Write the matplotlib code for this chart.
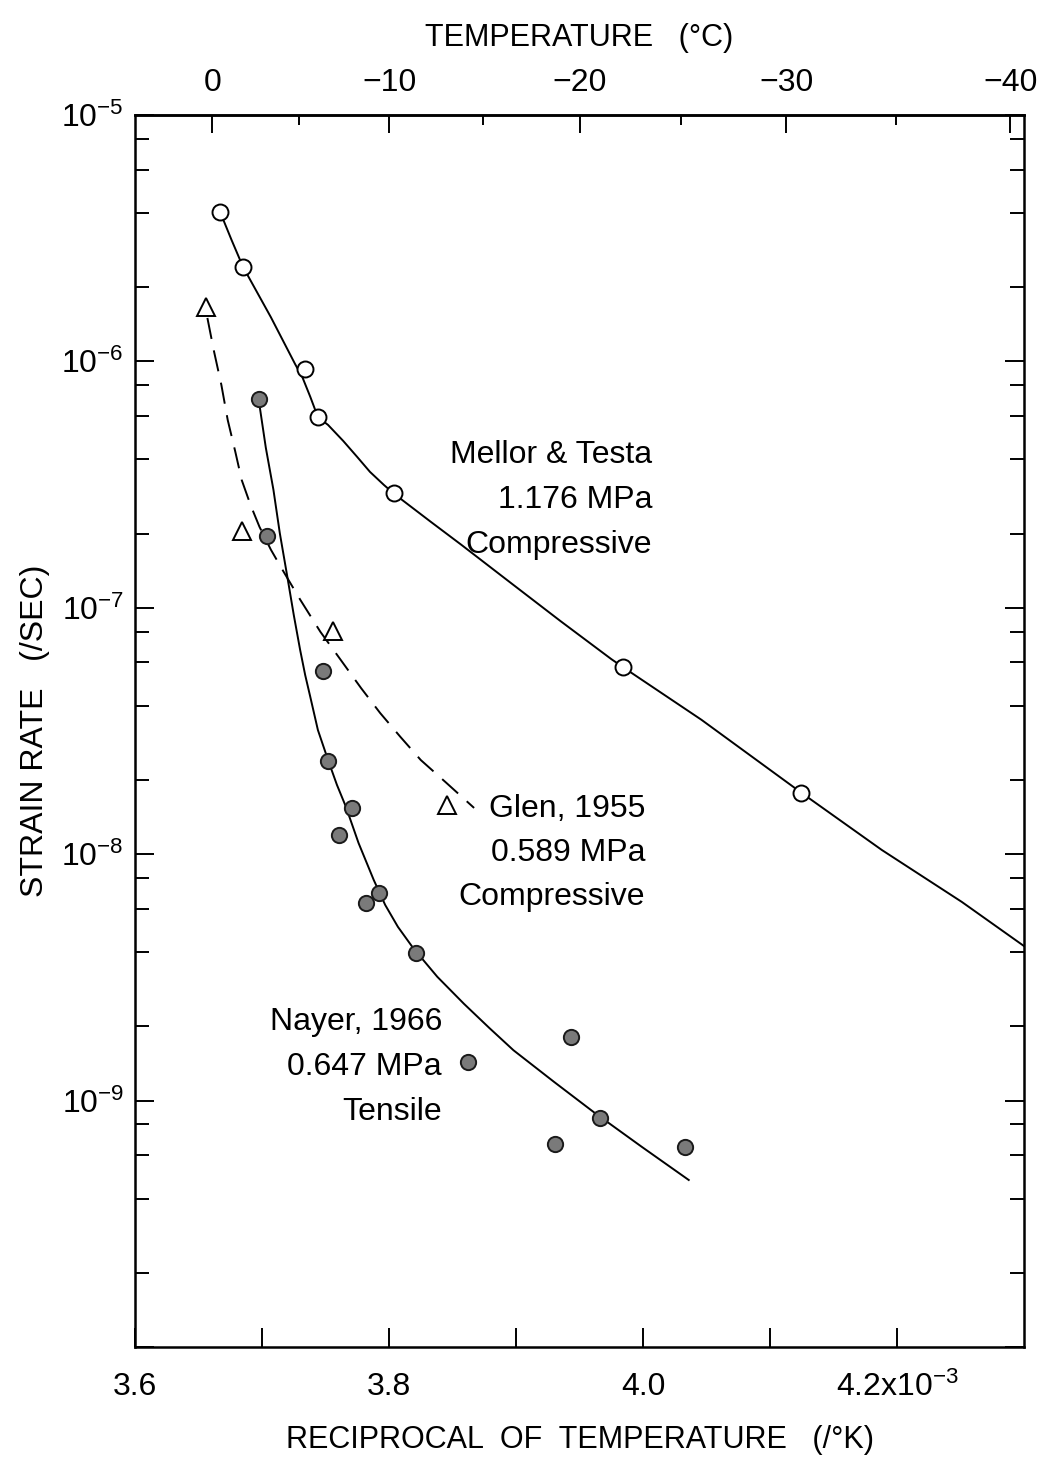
import numpy as np
import matplotlib
matplotlib.use('Agg')
import matplotlib.pyplot as plt
from matplotlib.ticker import FixedLocator, LogLocator, NullFormatter

plt.rcParams['font.family'] = ['Liberation Sans', 'DejaVu Sans']
plt.rcParams['mathtext.fontset'] = 'custom'
plt.rcParams['mathtext.rm'] = 'Liberation Sans'
plt.rcParams['mathtext.it'] = 'Liberation Sans:italic'
plt.rcParams['mathtext.bf'] = 'Liberation Sans:bold'
plt.rcParams['axes.unicode_minus'] = True

# x values are 1/T in units of 1e-3 /K, rates in /sec

# Mellor & Testa, 1.176 MPa, compressive (open circles)
mellor_x = [3.667, 3.685, 3.734, 3.744, 3.804, 3.984, 4.124]
mellor_rate = [4.04e-6, 2.42e-6, 9.3e-7, 5.94e-7, 2.92e-7, 5.75e-8, 1.77e-8]
mellor_curve_x = [3.667, 3.676, 3.685, 3.707, 3.726, 3.732, 3.738, 3.744, 3.752,
                  3.764, 3.775, 3.785, 3.796, 3.804, 3.833, 3.857, 3.896, 3.935,
                  3.975, 3.984, 4.046, 4.125, 4.188, 4.251, 4.301]
mellor_curve_rate = [4.04e-6, 3.11e-6, 2.42e-6, 1.51e-6, 9.76e-7, 8.57e-7, 7.18e-7,
                     5.94e-7, 5.52e-7, 4.75e-7, 4.09e-7, 3.56e-7, 3.15e-7, 2.90e-7,
                     2.23e-7, 1.80e-7, 1.26e-7, 8.83e-8, 6.19e-8, 5.75e-8, 3.51e-8,
                     1.77e-8, 1.04e-8, 6.40e-9, 4.20e-9]

# Glen, 1955, 0.589 MPa, compressive (open triangles, dashed)
glen_x = [3.656, 3.684, 3.756, 3.846]
glen_rate = [1.66e-6, 2.05e-7, 8.05e-8, 1.58e-8]
glen_curve_x = [3.657, 3.662, 3.668, 3.673, 3.679, 3.684, 3.691, 3.698, 3.707,
                3.717, 3.730, 3.746, 3.762, 3.778, 3.793, 3.809, 3.825, 3.845, 3.867]
glen_curve_rate = [1.50e-6, 1.11e-6, 8.02e-7, 5.78e-7, 4.29e-7, 3.30e-7, 2.61e-7,
                   2.13e-7, 1.72e-7, 1.40e-7, 1.08e-7, 7.98e-8, 6.14e-8, 4.72e-8,
                   3.74e-8, 2.99e-8, 2.41e-8, 1.95e-8, 1.54e-8]

# Nayer, 1966, 0.647 MPa, tensile (filled circles)
nayer_x = [3.698, 3.704, 3.748, 3.752, 3.771, 3.761, 3.792, 3.782, 3.821,
           3.943, 3.862, 3.966, 3.931, 4.033]
nayer_rate = [7.03e-7, 1.95e-7, 5.54e-8, 2.39e-8, 1.54e-8, 1.20e-8, 6.97e-9,
              6.34e-9, 3.97e-9, 1.81e-9, 1.44e-9, 8.49e-10, 6.67e-10, 6.49e-10]
nayer_curve_x = [3.698, 3.703, 3.709, 3.714, 3.720, 3.725, 3.730, 3.734, 3.738,
                 3.744, 3.752, 3.759, 3.766, 3.776, 3.788, 3.797, 3.807, 3.819,
                 3.838, 3.859, 3.879, 3.898, 3.930, 3.962, 3.999, 4.036]
nayer_curve_rate = [6.65e-7, 4.46e-7, 3.01e-7, 2.01e-7, 1.33e-7, 9.35e-8, 6.75e-8,
                    5.33e-8, 4.35e-8, 3.19e-8, 2.41e-8, 1.91e-8, 1.56e-8, 1.11e-8,
                    7.85e-9, 6.22e-9, 5.07e-9, 4.16e-9, 3.18e-9, 2.47e-9, 1.97e-9,
                    1.60e-9, 1.19e-9, 8.91e-10, 6.49e-10, 4.76e-10]

x_ticks = [3.6, 3.7, 3.8, 3.9, 4.0, 4.1, 4.2]
x_ticklabels = ['3.6', '', '3.8', '', '4.0', '', '4.2x10$^{-3}$']
y_ticks = [1e-10, 1e-9, 1e-8, 1e-7, 1e-6, 1e-5]
y_ticklabels = ['', '$10^{-9}$', '$10^{-8}$', '$10^{-7}$', '$10^{-6}$', '$10^{-5}$']
temp_ticks = [0, -10, -20, -30, -40]
temp_minor = [-5, -15, -25, -35]
temp_ticklabels = ['0', '\u221210', '\u221220', '\u221230', '\u221240']

labels = {
    'mellor': ['Mellor & Testa', '1.176 MPa', 'Compressive'],
    'glen': ['Glen, 1955', '0.589 MPa', 'Compressive'],
    'nayer': ['Nayer, 1966', '0.647 MPa', 'Tensile'],
}

fig = plt.figure(figsize=(10.49, 14.66), dpi=100)
ax = fig.add_axes([0.1287, 0.0812, 0.8475, 0.8404])

lw = 1.4
ax.plot(mellor_curve_x, mellor_curve_rate, color='black', lw=lw, zorder=2)
ax.plot(glen_curve_x, glen_curve_rate, color='black', lw=lw, dashes=(11, 6), zorder=2)
ax.plot(nayer_curve_x, nayer_curve_rate, color='black', lw=lw, zorder=2)

ax.plot(mellor_x, mellor_rate, 'o', ms=11.5, mfc='white', mec='black', mew=1.4,
        ls='none', zorder=3)
ax.plot(glen_x, glen_rate, '^', ms=12.5, mfc='white', mec='black', mew=1.4,
        ls='none', zorder=3)
ax.plot(nayer_x, nayer_rate, 'o', ms=11, mfc='#7a7a7a', mec='#1a1a1a', mew=1.4,
        ls='none', zorder=3)

ax.set_yscale('log')
ax.set_xlim(3.6, 4.3)
ax.set_ylim(1e-10, 1e-5)

ax.xaxis.set_major_locator(FixedLocator(x_ticks))
ax.set_xticklabels(x_ticklabels)
ax.yaxis.set_major_locator(FixedLocator(y_ticks))
ax.set_yticklabels(y_ticklabels)
ax.yaxis.set_minor_locator(LogLocator(base=10, subs=(2, 4, 6, 8)))
ax.yaxis.set_minor_formatter(NullFormatter())

ax.tick_params(axis='both', which='major', direction='in', length=14, width=1.4,
               right=True, top=False)
ax.tick_params(axis='y', which='minor', direction='in', length=10, width=1.4,
               right=True)
ax.tick_params(axis='x', which='major', pad=18, labelsize=23)
ax.tick_params(axis='y', which='major', pad=8, labelsize=23)
for s in ax.spines.values():
    s.set_linewidth(1.8)

# top axis in degrees C
def inv_to_c(x):
    x = np.asarray(x, dtype=float)
    return 1000.0 / x - 273.15

def c_to_inv(c):
    c = np.asarray(c, dtype=float)
    return 1000.0 / (c + 273.15)

secax = ax.secondary_xaxis('top', functions=(inv_to_c, c_to_inv))
secax.xaxis.set_major_locator(FixedLocator(temp_ticks))
secax.xaxis.set_minor_locator(FixedLocator(temp_minor))
secax.set_xticklabels(temp_ticklabels)
secax.tick_params(which='major', direction='in', length=13, width=1.4,
                  labelsize=23, pad=12)
secax.tick_params(which='minor', direction='in', length=7, width=1.4)
secax.spines['top'].set_linewidth(1.8)

secax.set_xlabel('TEMPERATURE   (\u00b0C)', fontsize=22, labelpad=16)
ax.set_xlabel('RECIPROCAL  OF  TEMPERATURE   (/\u00b0K)', fontsize=22, labelpad=16)
ax.set_ylabel('STRAIN RATE   (/SEC)', fontsize=23, labelpad=8)

def put_label(lines, x, ys):
    for line, y in zip(lines, ys):
        ax.text(x, y, line, transform=ax.transAxes, ha='right', va='baseline',
                fontsize=23)

put_label(labels['mellor'], 0.5816, [0.7175, 0.6810, 0.6445])
put_label(labels['glen'], 0.5737, [0.4302, 0.3945, 0.3588])
put_label(labels['nayer'], 0.3453, [0.2573, 0.2208, 0.1843])

fig.savefig('out.png', dpi=100)
